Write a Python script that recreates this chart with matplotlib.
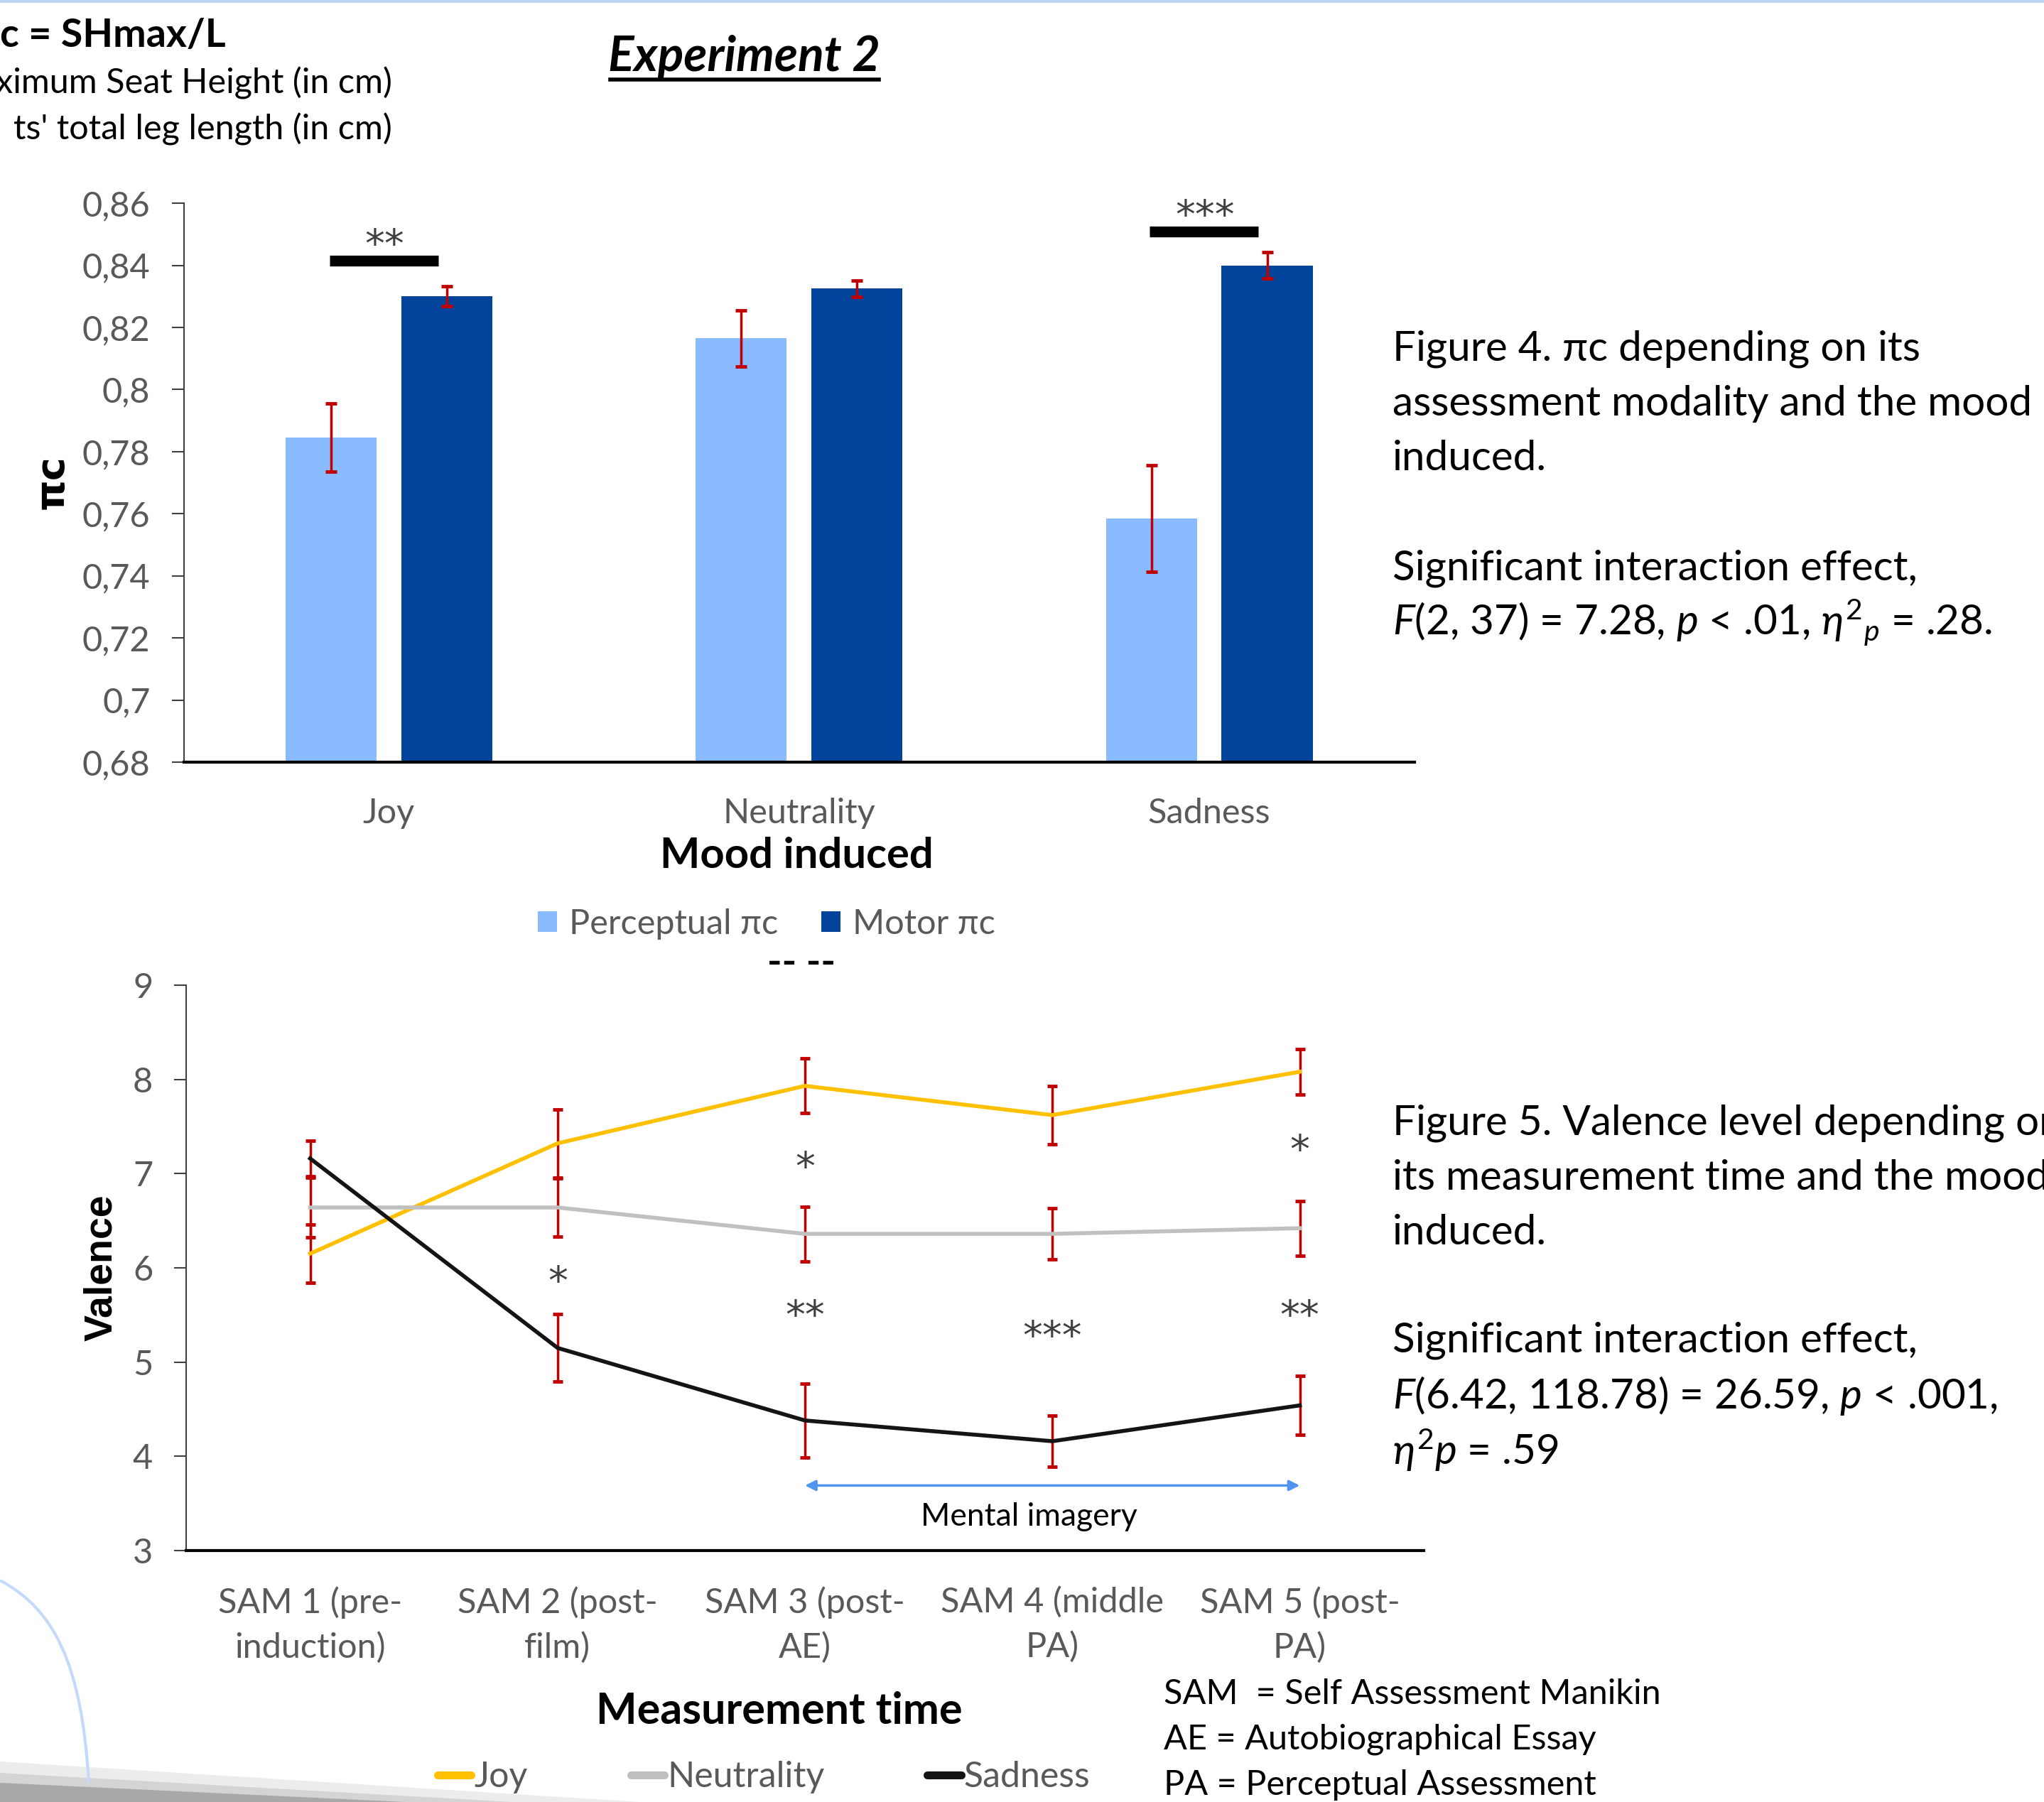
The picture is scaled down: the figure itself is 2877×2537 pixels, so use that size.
import matplotlib.pyplot as plt
from matplotlib.lines import Line2D
from matplotlib.patches import Polygon, PathPatch, Rectangle
from matplotlib.path import Path

plt.rcParams['font.family'] = ['Lato', 'DejaVu Sans']
plt.rcParams['mathtext.fontset'] = 'custom'
plt.rcParams['mathtext.rm'] = 'Lato'
plt.rcParams['mathtext.it'] = 'Lato:italic'
plt.rcParams['mathtext.bf'] = 'Lato:bold'

# ---- Figure 4 : pi_c by mood and modality
moods = ['Joy', 'Neutrality', 'Sadness']
perceptual = [0.7845, 0.8165, 0.7585]
perceptual_err = [0.011, 0.009, 0.0172]
motor = [0.830, 0.8325, 0.840]
motor_err = [0.0032, 0.0027, 0.0043]
pi_ticks = [0.68, 0.70, 0.72, 0.74, 0.76, 0.78, 0.80, 0.82, 0.84, 0.86]
pi_ticklabels = ['0,68', '0,7', '0,72', '0,74', '0,76', '0,78', '0,8', '0,82', '0,84', '0,86']
sig_moods = [0, 2]
sig_stars = ['**', '***']
sig_levels = [0.8414, 0.8508]

# ---- Figure 5 : valence by measurement time
times = ['SAM 1 (pre-\ninduction)', 'SAM 2 (post-\nfilm)', 'SAM 3 (post-\nAE)',
         'SAM 4 (middle\nPA)', 'SAM 5 (post-\nPA)']
joy = [6.15, 7.32, 7.93, 7.62, 8.08]
joy_err = [0.31, 0.36, 0.29, 0.31, 0.24]
neutrality = [6.64, 6.64, 6.36, 6.36, 6.42]
neutrality_err = [0.32, 0.31, 0.29, 0.27, 0.29]
sadness = [7.16, 5.15, 4.38, 4.16, 4.54]
sadness_err = [0.19, 0.36, 0.39, 0.27, 0.31]
valence_ticks = [3, 4, 5, 6, 7, 8, 9]
star_times = [1, 2, 2, 3, 4, 4]
star_labels = ['*', '*', '**', '***', '*', '**']
star_levels = [5.96, 7.17, 5.60, 5.38, 7.35, 5.60]

W, H = 2877, 2537
fig = plt.figure(figsize=(W / 100, H / 100), dpi=100)


def fx(x):
    return x / 1568


def fy(y):
    return 1 - y / 1383


GRAY = '#595959'
RED = '#C00000'
FS = 35
STAR = dict(ha='center', va='center', fontsize=40, color='#404040', family=['DejaVu Sans'],
            xytext=(0, -12), textcoords='offset points')

# ---------- top chart
ax = fig.add_axes([fx(141), fy(585), fx(1085) - fx(141), fy(156) - fy(585)])
x = range(len(moods))
w = 0.222
ekw = dict(ecolor=RED, elinewidth=2.5, capsize=6, capthick=3.5)
ax.bar([i - 0.141 for i in x], perceptual, w, yerr=perceptual_err, color='#8ABAFF',
       error_kw=ekw, label='Perceptual πc')
ax.bar([i + 0.141 for i in x], motor, w, yerr=motor_err, color='#02449B',
       error_kw=ekw, label='Motor πc')
ax.set_ylim(0.68, 0.86)
ax.set_xlim(-0.5, 2.5)
ax.set_yticks(pi_ticks)
ax.set_yticklabels(pi_ticklabels)
ax.set_xticks(list(x))
ax.set_xticklabels(moods)
for m, st, lv in zip(sig_moods, sig_stars, sig_levels):
    ax.plot([m - 0.145, m + 0.12], [lv, lv], color='black', lw=11, solid_capstyle='butt')
    ax.annotate(st, (m - 0.01, lv + 0.0085), **STAR)

# ---------- bottom chart
ax2 = fig.add_axes([fx(143), fy(1190), fx(1092) - fx(143), fy(756) - fy(1190)])
t = range(len(times))
for vals, errs, col in [(joy, joy_err, '#FFC000'), (neutrality, neutrality_err, '#C0C0C0'),
                        (sadness, sadness_err, '#141414')]:
    ax2.errorbar(t, vals, yerr=errs, color=col, lw=4, ecolor=RED, elinewidth=2.5,
                 capsize=5, capthick=3.5)
for ti, lab, lv in zip(star_times, star_labels, star_levels):
    ax2.annotate(lab, (ti, lv), **STAR)
ax2.annotate('', xy=(4, 3.69), xytext=(2, 3.69),
             arrowprops=dict(arrowstyle='<|-|>', color='#4F94EE', lw=2.5,
                             shrinkA=0, shrinkB=0, mutation_scale=22))
ax2.text(2.905, 3.36, 'Mental imagery', ha='center', va='center', fontsize=32, color='black')
ax2.set_ylim(3, 9)
ax2.set_xlim(-0.5, 4.5)
ax2.set_yticks(valence_ticks)
ax2.set_xticks(list(t))
ax2.set_xticklabels(times)
for lab in ax2.get_xticklabels():
    lab.set_linespacing(1.5)

for a in (ax, ax2):
    for s in ('top', 'right'):
        a.spines[s].set_visible(False)
    a.spines['left'].set_color('#404040')
    a.spines['left'].set_linewidth(1.5)
    a.spines['bottom'].set_color('black')
    a.spines['bottom'].set_linewidth(3)
    a.tick_params(axis='y', direction='out', length=12, width=1.5, color='#404040',
                  labelcolor=GRAY, labelsize=FS, pad=22)
    a.tick_params(axis='x', length=0, labelcolor=GRAY, labelsize=FS, pad=36)

# axis titles
fig.text(fx(40), fy(370), 'πc', rotation=90, ha='center', va='center', fontsize=40,
         weight='bold', family=['DejaVu Sans'])
fig.text(fx(78), fy(973), 'Valence', rotation=90, ha='center', va='center', fontsize=40,
         weight='bold', family=['Liberation Sans', 'DejaVu Sans'])
fig.text(fx(611), fy(657), 'Mood induced', ha='center', va='center', fontsize=43, weight='bold')
fig.text(fx(598), fy(1313), 'Measurement time', ha='center', va='center', fontsize=44,
         weight='bold')

# legends
h1, l1 = ax.get_legend_handles_labels()
fig.legend(h1, l1, loc='center', bbox_to_anchor=(fx(588), fy(709)), ncol=2, frameon=False,
           fontsize=FS, labelcolor=GRAY, handlelength=0.55, handleheight=0.55,
           handletextpad=0.35, columnspacing=1.25)
proxies = [Line2D([], [], color=c, lw=8, solid_capstyle='round')
           for c in ('#FFC000', '#C0C0C0', '#141414')]
fig.legend(proxies, ['Joy', 'Neutrality', 'Sadness'], loc='center',
           bbox_to_anchor=(fx(586), fy(1364)), ncol=3, frameon=False, fontsize=36,
           labelcolor=GRAY, handlelength=0.95, handletextpad=0.08, columnspacing=2.9)
fig.text(fx(615), fy(739), '-- --', ha='center', va='center', fontsize=40, weight='bold')

# header
fig.text(fx(0), fy(27), 'c = SHmax/L', ha='left', va='center', fontsize=40, weight='bold')
fig.text(fx(301), fy(64), 'ximum Seat Height (in cm)', ha='right', va='center', fontsize=35)
fig.text(fx(301), fy(99), "ts' total leg length (in cm)", ha='right', va='center', fontsize=35)
fig.text(fx(571), fy(44), 'Experiment 2', ha='center', va='center', fontsize=49,
         weight='bold', style='italic')
fig.add_artist(Line2D([fx(468), fx(674)], [fy(61), fy(61)], color='black', lw=4))

# captions
cap4 = [('Figure 4. πc depending on its', 268), ('assessment modality and the mood', 310),
        ('induced.', 352), ('Significant interaction effect,', 436),
        (r'$F$(2, 37) = 7.28, $p$ < .01, $\eta^{2}{}_{p}$ = .28.', 478)]
cap5 = [('Figure 5. Valence level depending on', 862), ('its measurement time and the mood', 904),
        ('induced.', 946), ('Significant interaction effect,', 1029),
        (r'$F$(6.42, 118.78) = 26.59, $p$ < .001,', 1071), (r'$\eta^2p$ = .59', 1113)]
for txt, yy in cap4 + cap5:
    fig.text(fx(1068), fy(yy), txt, ha='left', va='center', fontsize=42, color='black')

notes = [('SAM  = Self Assessment Manikin', 1300), ('AE = Autobiographical Essay', 1335),
         ('PA = Perceptual Assessment', 1370)]
for txt, yy in notes:
    fig.text(fx(893), fy(yy), txt, ha='left', va='center', fontsize=35, color='black')

# decorations
fig.add_artist(Rectangle((0, 1 - 4 / H), 1, 4 / H, transform=fig.transFigure,
                         color='#BDD3F6', lw=0))
for pts, col in [([(0, 2480), (900, 2537), (0, 2537)], '#ECECEC'),
                 ([(0, 2496), (720, 2537), (0, 2537)], '#D4D4D4'),
                 ([(0, 2510), (570, 2537), (0, 2537)], '#A8A8A8')]:
    fig.add_artist(Polygon([(px / W, 1 - py / H) for px, py in pts], closed=True,
                           transform=fig.transFigure, color=col, lw=0))
curve = Path([(0, 1 - 2225 / H), (75 / W, 1 - 2265 / H), (115 / W, 1 - 2340 / H),
              (125 / W, 1 - 2510 / H)],
             [Path.MOVETO, Path.CURVE4, Path.CURVE4, Path.CURVE4])
fig.add_artist(PathPatch(curve, transform=fig.transFigure, fill=False, ec='#C5DAFA', lw=3))

fig.savefig('out.png', dpi=100)
